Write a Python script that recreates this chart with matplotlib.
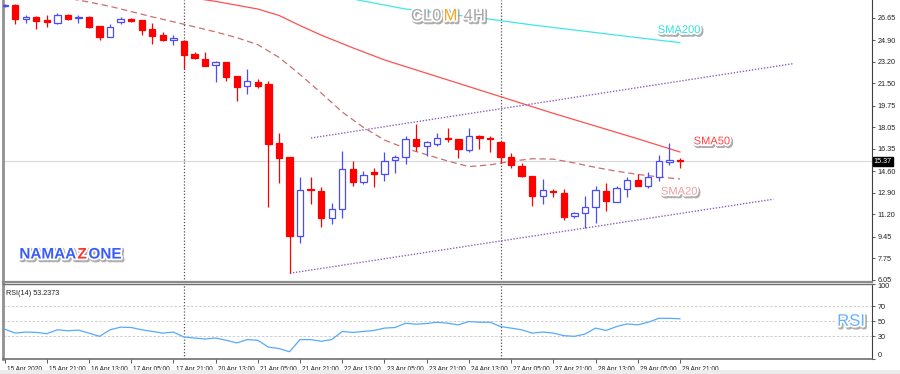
import matplotlib
matplotlib.use('Agg')
import matplotlib.pyplot as plt
import matplotlib.patheffects as pe
import matplotlib.transforms as mtransforms
from matplotlib.patches import Rectangle

# CL0M 4H candles, 15 Apr 05:00 -> 29 Apr 21:00
opens = [27.58, 27.67, 26.55, 26.75, 26.49, 26.28, 26.88, 26.65, 26.75, 26.02,
         25.18, 26.33, 26.55, 26.49, 25.81, 25.29, 24.92, 24.81, 23.82, 23.45,
         22.93, 23.16, 22.06, 21.30, 21.64, 21.46, 16.82, 15.72, 9.51, 13.18,
         13.05, 10.92, 11.63, 14.78, 13.75, 14.50, 14.38, 15.48, 15.72, 17.13,
         16.58, 16.74, 17.25, 17.13, 16.27, 17.33, 17.25, 16.90, 15.72, 15.01,
         14.23, 12.65, 13.04, 12.89, 11.08, 11.32, 11.79, 13.05, 12.18, 13.20,
         13.91, 13.44, 14.15, 15.36, 15.45]
highs = [27.78, 27.75, 26.88, 26.80, 26.88, 27.02, 26.96, 26.88, 26.80, 26.05,
         26.18, 26.70, 26.62, 26.52, 26.28, 25.57, 25.31, 24.92, 23.97, 23.97,
         23.24, 23.20, 22.08, 22.61, 21.88, 21.70, 17.61, 15.75, 14.15, 14.15,
         13.36, 12.10, 16.19, 15.41, 14.62, 14.86, 16.11, 15.88, 17.37, 18.31,
         16.98, 17.61, 18.00, 17.16, 18.00, 17.45, 17.37, 16.98, 16.03, 15.25,
         14.26, 13.99, 13.20, 13.20, 11.40, 12.65, 13.44, 13.68, 13.44, 14.15,
         14.38, 14.54, 15.88, 16.82, 15.64]
lows = [27.52, 26.18, 26.23, 25.78, 25.92, 26.18, 26.49, 26.28, 25.87, 24.88,
        25.15, 26.18, 26.36, 25.29, 24.58, 24.87, 24.53, 22.64, 23.45, 22.87,
        21.62, 21.72, 20.15, 20.67, 21.12, 11.79, 13.68, 6.58, 8.96, 12.02,
        10.22, 10.45, 10.92, 13.44, 13.60, 13.36, 13.83, 14.46, 15.17, 16.19,
        15.80, 16.58, 16.90, 15.64, 16.11, 16.35, 16.11, 15.25, 14.86, 14.15,
        11.87, 12.02, 12.58, 10.77, 10.92, 10.14, 10.53, 11.47, 12.18, 12.58,
        13.44, 13.28, 13.83, 15.09, 14.86]
closes = [27.70, 26.55, 26.75, 26.43, 26.33, 26.88, 26.59, 26.75, 25.92, 25.18,
          25.96, 26.55, 26.39, 25.70, 25.26, 24.92, 25.10, 23.74, 23.48, 22.90,
          23.19, 22.03, 21.20, 21.67, 21.33, 16.74, 15.64, 9.51, 13.13, 13.10,
          10.92, 11.63, 14.78, 13.75, 14.30, 14.42, 15.41, 15.72, 17.13, 16.58,
          16.90, 17.21, 17.17, 16.35, 17.37, 17.25, 17.17, 15.72, 15.09, 14.23,
          12.65, 13.13, 12.96, 11.00, 11.32, 11.79, 13.13, 12.26, 13.28, 13.91,
          13.44, 14.15, 15.41, 15.45, 15.37]

rsi = [39.6, 34.3, 35.7, 35.2, 33.5, 38.7, 37.4, 38.3, 34.3, 30.0,
       38.7, 42.2, 41.7, 38.7, 36.5, 34.3, 35.7, 29.1, 27.8, 26.5,
       27.8, 24.8, 21.3, 25.7, 24.8, 15.7, 13.9, 9.6, 25.7, 25.7,
       23.5, 25.7, 36.5, 35.2, 36.5, 37.8, 40.9, 41.7, 47.4, 46.1,
       47.0, 48.7, 47.4, 45.2, 49.6, 48.7, 48.7, 43.0, 40.9, 38.7,
       34.3, 35.7, 34.3, 30.9, 30.0, 33.0, 40.9, 37.8, 43.0, 46.5,
       45.2, 48.7, 53.9, 53.9, 53.24]

# moving averages (candle index, price)
sma20_idx = [6, 8, 10, 12, 14, 16, 18, 20, 22, 24, 26, 28, 30, 32, 34,
             36, 38, 40, 42, 44, 46, 48, 50, 52, 54, 56, 58, 60, 62, 64]
sma20 = [28.2, 27.9, 27.56, 27.15, 26.73, 26.35, 25.95, 25.55, 25.1, 24.55,
         23.55, 22.2, 20.75, 19.25, 18.05, 17.05, 16.4, 15.9, 15.4, 14.96,
         15.1, 15.38, 15.58, 15.55, 15.25, 14.9, 14.6, 14.35, 14.15, 13.99]
sma50_idx = [18, 20, 22, 24, 26, 28, 30, 33, 36, 40, 44, 48, 52, 56, 60, 64]
sma50 = [28.2, 27.95, 27.65, 27.35, 26.85, 26.05, 25.3, 24.3, 23.35, 22.3,
         21.25, 20.2, 19.15, 18.15, 17.15, 16.11]
sma200_idx = [32, 34, 38, 42, 46, 50, 54, 58, 62, 64]
sma200 = [28.3, 27.98, 27.35, 26.95, 26.55, 26.1, 25.7, 25.3, 24.9, 24.71]

# channel lines
chan_up_x = [29.03, 74.76]
chan_up_y = [17.21, 23.06]
chan_lo_x = [27.04, 72.86]
chan_lo_y = [6.58, 12.40]

week_sep = [17, 47]
last_price = 15.37
rsi_last = 53.2373

price_ticks = [26.65, 24.90, 23.20, 21.50, 19.75, 18.05, 16.35, 14.60,
               12.90, 11.20, 9.45, 7.75, 6.05]
rsi_ticks = [0, 30, 50, 70, 100]
date_pos = list(range(0, 65, 4))
date_labels = ['15 Apr 2020', '15 Apr 21:00', '16 Apr 13:00', '17 Apr 05:00',
               '17 Apr 21:00', '20 Apr 13:00', '21 Apr 05:00', '21 Apr 21:00',
               '22 Apr 13:00', '23 Apr 05:00', '23 Apr 21:00', '24 Apr 13:00',
               '27 Apr 05:00', '27 Apr 21:00', '28 Apr 13:00', '29 Apr 05:00',
               '29 Apr 21:00']

small_font = ['Liberation Sans', 'DejaVu Sans']
big_font = ['Liberation Sans', 'DejaVu Sans']
BLUE = '#4a4aff'
RED = '#ff0000'

fig = plt.figure(figsize=(9, 3.74), dpi=100)
fig.patches.append(Rectangle((0, 0), 1, 4/374, transform=fig.transFigure,
                             facecolor='#ececec', edgecolor='none'))
ax = fig.add_axes([3/900, 92.5/374, 869/900, 281.5/374])
ax2 = fig.add_axes([3/900, 15/374, 869/900, 75.5/374], sharex=ax)

x = list(range(len(opens)))
bull = [i for i in x if closes[i] >= opens[i]]
bear = [i for i in x if closes[i] < opens[i]]

# wicks
ax.vlines(bull, [lows[i] for i in bull], [highs[i] for i in bull], color=BLUE, lw=0.9, zorder=3)
ax.vlines(bear, [lows[i] for i in bear], [highs[i] for i in bear], color=RED, lw=0.9, zorder=3)
# bodies
ax.bar(bull, [closes[i] - opens[i] for i in bull], bottom=[opens[i] for i in bull],
       width=0.6, facecolor='white', edgecolor=BLUE, lw=0.9, zorder=4)
ax.bar(bear, [closes[i] - opens[i] for i in bear], bottom=[opens[i] for i in bear],
       width=0.6, facecolor=RED, edgecolor=RED, lw=0.9, zorder=4)

ax.plot(sma20_idx, sma20, color='#c87070', lw=0.9, ls=(0, (5, 3)), zorder=2)
ax.plot(sma50_idx, sma50, color='#ff5050', lw=0.9, zorder=2)
ax.plot(sma200_idx, sma200, color='#40e8e8', lw=0.9, zorder=2)
ax.plot(chan_up_x, chan_up_y, color='#9060c0', lw=1.0, ls=(0, (1, 1.2)), zorder=2)
ax.plot(chan_lo_x, chan_lo_y, color='#9060c0', lw=1.0, ls=(0, (1, 1.2)), zorder=2)
ax.axhline(last_price, color='#d8d8d8', lw=0.8, zorder=1)

for s in week_sep:
    ax.axvline(s, color='#505050', lw=0.9, ls=(0, (1, 1.5)), zorder=1)
    ax2.axvline(s, color='#505050', lw=0.9, ls=(0, (1, 1.5)), zorder=1)

ax.set_xlim(-0.15, 82.2)
ax.set_ylim(5.93, 28.06)
ax.yaxis.tick_right()
ax.set_yticks(price_ticks)
ax.set_yticklabels(['%.2f' % t for t in price_ticks], fontsize=5.2, family=small_font, color='#202020')
ax.tick_params(axis='y', length=2.5, width=0.6, pad=1.5, color='#404040')
ax.tick_params(axis='x', bottom=False, labelbottom=False)
ax.spines['top'].set_visible(False)
ax.spines['left'].set_color('#909090')
ax.spines['left'].set_linewidth(2)
ax.spines['right'].set_color('#404040')
ax.spines['right'].set_linewidth(0.8)
ax.spines['bottom'].set_color('#8a8a8a')
ax.spines['bottom'].set_linewidth(1.6)

ytr = mtransforms.blended_transform_factory(ax.transAxes, ax.transData)
ax.text(1.002, last_price, '%.2f' % last_price, transform=ytr, fontsize=5.2, family=small_font,
        color='white', va='center', ha='left',
        bbox=dict(facecolor='black', edgecolor='black', pad=0.8), zorder=6)

# labels with white outline and drop shadow
def fx():
    return [pe.Stroke(linewidth=3, foreground='#8a8a8a', offset=(1.0, -1.2), alpha=0.7),
            pe.Stroke(linewidth=2.6, foreground='white'), pe.Normal()]

ax.text(38.5, 26.8, 'CL0', fontsize=12, color='#a8a8a8', family=big_font, va='center',
        ha='left', path_effects=fx(), zorder=7)
ax.text(41.6, 26.8, 'M', fontsize=12, color='#f5a623', family=big_font, va='center',
        ha='left', path_effects=fx(), zorder=7)
ax.text(43.5, 26.8, '4H', fontsize=12, color='#a8a8a8', family=big_font, va='center',
        ha='left', path_effects=fx(), zorder=7)

ax.text(61.9, 25.7, 'SMA200', fontsize=8, color='#30e0e0', family=big_font, va='center',
        ha='left', path_effects=fx(), zorder=7)
ax.text(65.3, 16.95, 'SMA50', fontsize=8, color='#ff4444', family=big_font, va='center',
        ha='left', path_effects=fx(), zorder=7)
ax.text(62.2, 13.0, 'SMA20', fontsize=8, color='#e8a0a0', family=big_font, va='center',
        ha='left', path_effects=fx(), zorder=7)

ax.text(1.4, 8.05, 'NAMAA', fontsize=11, fontweight='bold', color='#3a5cff', family=big_font,
        va='center', ha='left', path_effects=fx(), zorder=7)
ax.text(6.9, 8.05, 'Z', fontsize=11, fontweight='bold', color='#ff3030', family=big_font,
        va='center', ha='left', path_effects=fx(), zorder=7)
ax.text(7.95, 8.05, 'ONE', fontsize=11, fontweight='bold', color='#3a5cff', family=big_font,
        va='center', ha='left', path_effects=fx(), zorder=7)

# RSI panel
ax2.plot(x, rsi, color='#55aaff', lw=0.9, zorder=3)
for lv in [30, 50, 70]:
    ax2.axhline(lv, color='#c8c8c8', lw=0.6, ls=(0, (3, 2)), zorder=1)
ax2.set_ylim(0, 100)
ax2.yaxis.tick_right()
ax2.set_yticks(rsi_ticks)
ax2.set_yticklabels([str(t) for t in rsi_ticks], fontsize=5.2, family=small_font, color='#202020')
labs = ax2.get_yticklabels()
labs[0].set_va('bottom')
labs[-1].set_va('top')
ax2.tick_params(axis='y', length=2.5, width=0.6, pad=1.5, color='#404040')
ax2.set_xticks(date_pos)
ax2.set_xticklabels(date_labels, fontsize=4.7, family=small_font, color='#202020', ha='left')
ax2.tick_params(axis='x', length=3, width=0.6, pad=2, color='#404040')
off = mtransforms.ScaledTranslation(1.5/72, 0, fig.dpi_scale_trans)
for lab in ax2.get_xticklabels():
    lab.set_transform(lab.get_transform() + off)
ax2.spines['top'].set_color('#707070')
ax2.spines['top'].set_linewidth(1.0)
ax2.spines['left'].set_color('#909090')
ax2.spines['left'].set_linewidth(2)
ax2.spines['right'].set_color('#404040')
ax2.spines['right'].set_linewidth(0.8)
ax2.spines['bottom'].set_color('#707070')
ax2.spines['bottom'].set_linewidth(1.2)

ax2.text(0.004, 0.92, 'RSI(14) %.4f' % rsi_last, transform=ax2.transAxes, fontsize=5.2,
         family=small_font, color='#202020', va='top', ha='left')
ax2.text(78.9, 50, 'RSI', fontsize=12, color='#66b2ff', family=big_font, va='center',
         ha='left', path_effects=fx(), zorder=7)

fig.savefig('out.png', dpi=100)
